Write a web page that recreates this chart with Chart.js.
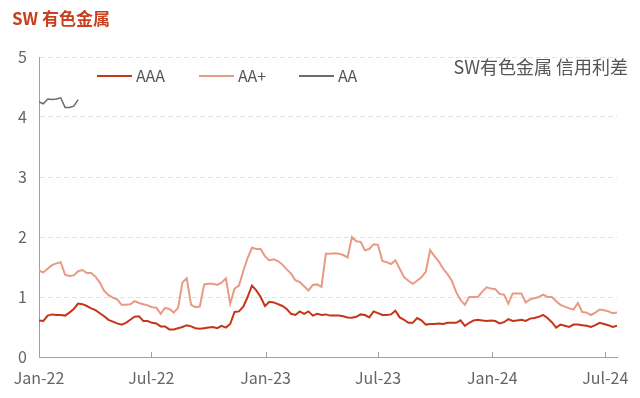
<!DOCTYPE html>
<html>
<head>
<meta charset="utf-8">
<script src="https://cdn.jsdelivr.net/npm/chart.js@4.4.0/dist/chart.umd.min.js"></script>
<style>
  html, body { margin: 0; padding: 0; background: #fff; }
  #wrap { width: 640px; height: 398px; }
</style>
</head>
<body>
<div id="wrap"><canvas id="chart" width="640" height="398"></canvas></div>
<script>
// weekly spreads (%), first week = 2022-01-01
const aaa = [
  0.61, 0.60, 0.69, 0.71, 0.70, 0.70, 0.69, 0.74, 0.80, 0.89,
  0.88, 0.85, 0.81, 0.78, 0.73, 0.68, 0.62, 0.59, 0.56, 0.54,
  0.57, 0.62, 0.67, 0.68, 0.60, 0.60, 0.57, 0.56, 0.51, 0.51,
  0.46, 0.46, 0.48, 0.50, 0.53, 0.51, 0.48, 0.47, 0.48, 0.49,
  0.50, 0.48, 0.52, 0.49, 0.55, 0.75, 0.76, 0.84, 1.00, 1.19,
  1.11, 1.00, 0.85, 0.92, 0.91, 0.88, 0.85, 0.80, 0.72, 0.70,
  0.76, 0.72, 0.76, 0.69, 0.72, 0.70, 0.71, 0.69, 0.69, 0.69,
  0.68, 0.66, 0.655, 0.67, 0.71, 0.70, 0.66, 0.76, 0.73, 0.70,
  0.70, 0.71, 0.77, 0.66, 0.62, 0.57, 0.57, 0.65, 0.61, 0.54,
  0.55, 0.55, 0.56, 0.55, 0.57, 0.57, 0.57, 0.61, 0.52, 0.57,
  0.61, 0.62, 0.61, 0.60, 0.61, 0.60, 0.56, 0.58, 0.63, 0.60,
  0.61, 0.62, 0.60, 0.64, 0.65, 0.67, 0.70, 0.65, 0.58, 0.49,
  0.54, 0.52, 0.50, 0.54, 0.54, 0.53, 0.52, 0.50, 0.53, 0.57,
  0.55, 0.53, 0.50, 0.52
];
const aaPlus = [
  1.44, 1.41, 1.47, 1.53, 1.56, 1.58, 1.37, 1.35, 1.36, 1.43,
  1.45, 1.40, 1.40, 1.34, 1.24, 1.10, 1.03, 0.99, 0.96, 0.87,
  0.87, 0.88, 0.93, 0.90, 0.88, 0.86, 0.83, 0.82, 0.72, 0.82,
  0.80, 0.74, 0.82, 1.24, 1.31, 0.87, 0.83, 0.84, 1.21, 1.22,
  1.22, 1.20, 1.24, 1.31, 0.89, 1.14, 1.19, 1.43, 1.65, 1.82,
  1.80, 1.80, 1.68, 1.61, 1.63, 1.60, 1.54, 1.46, 1.39, 1.28,
  1.25, 1.18, 1.11, 1.20, 1.21, 1.17, 1.72, 1.72, 1.73, 1.72,
  1.70, 1.66, 2.00, 1.93, 1.92, 1.78, 1.80, 1.88, 1.87, 1.60,
  1.58, 1.55, 1.61, 1.47, 1.33, 1.27, 1.22, 1.27, 1.33, 1.42,
  1.78, 1.68, 1.59, 1.47, 1.38, 1.27, 1.08, 0.95, 0.87, 1.00,
  1.00, 1.00, 1.09, 1.16, 1.14, 1.13, 1.05, 1.04, 0.89, 1.06,
  1.06, 1.06, 0.91, 0.96, 0.98, 1.00, 1.04, 1.00, 1.00, 0.93,
  0.87, 0.84, 0.81, 0.79, 0.90, 0.75, 0.74, 0.70, 0.74, 0.79,
  0.78, 0.76, 0.73, 0.74
];
const aa = [4.25, 4.22, 4.30, 4.29, 4.30, 4.32, 4.16, 4.16, 4.18, 4.29];

const seriesNames = ['AAA', 'AA+', 'AA'];
const tickDays = [0, 181, 365, 546, 730, 912];
const tickLabels = ['Jan-22', 'Jul-22', 'Jan-23', 'Jul-23', 'Jan-24', 'Jul-24'];
const weekDays = aaa.map((v, i) => i * 7);

const FONT = '"Noto Sans CJK SC", "Noto Sans", sans-serif';
Chart.defaults.font.family = FONT;

const colors = ['#c4351a', '#e99a85', '#6b6b6b'];

// title, note, legend and inward x ticks
const decor = {
  id: 'decor',
  afterDraw(chart) {
    const ctx = chart.ctx;
    const area = chart.chartArea;
    const x = chart.scales.x;
    ctx.save();

    ctx.strokeStyle = '#a0a0a0';
    ctx.lineWidth = 1;
    tickDays.slice(1).forEach(d => {
      const px = Math.round(x.getPixelForValue(d)) + 0.5;
      ctx.beginPath();
      ctx.moveTo(px, area.bottom);
      ctx.lineTo(px, area.bottom - 5);
      ctx.stroke();
    });

    ctx.textBaseline = 'middle';
    ctx.fillStyle = '#c8401f';
    ctx.font = 'bold 17px ' + FONT;
    ctx.textAlign = 'left';
    ctx.fillText('SW 有色金属', 12, 19);

    ctx.fillStyle = '#555';
    ctx.font = '18px ' + FONT;
    ctx.textAlign = 'right';
    ctx.fillText('SW有色金属 信用利差', 628, 67);

    const legendX = [97, 199, 299];
    ctx.font = '16px ' + FONT;
    ctx.textAlign = 'left';
    chart.data.datasets.forEach((ds, i) => {
      const lx = legendX[i];
      ctx.strokeStyle = ds.borderColor;
      ctx.lineWidth = 2;
      ctx.beginPath();
      ctx.moveTo(lx, 76);
      ctx.lineTo(lx + 35, 76);
      ctx.stroke();
      ctx.fillStyle = '#555';
      ctx.fillText(ds.label, lx + 39, 76);
    });
    ctx.restore();
  }
};

new Chart(document.getElementById('chart'), {
  type: 'line',
  data: {
    labels: weekDays,
    datasets: [
      { label: seriesNames[0], data: aaa, borderColor: colors[0], borderWidth: 2 },
      { label: seriesNames[1], data: aaPlus, borderColor: colors[1], borderWidth: 2 },
      { label: seriesNames[2], data: aa, borderColor: colors[2], borderWidth: 1.5 }
    ]
  },
  options: {
    responsive: false,
    animation: false,
    devicePixelRatio: 1,
    layout: { padding: { top: 57, right: 23, left: 0, bottom: 0 } },
    elements: { point: { radius: 0 }, line: { tension: 0 } },
    plugins: { legend: { display: false }, tooltip: { enabled: false } },
    scales: {
      x: {
        type: 'linear',
        min: 0,
        max: 931,
        afterBuildTicks: s => { s.ticks = tickDays.map(v => ({ value: v })); },
        afterFit: s => { s.height = 41; },
        ticks: {
          callback: v => tickLabels[tickDays.indexOf(v)],
          color: '#666',
          font: { size: 16 },
          padding: 3,
          maxRotation: 0,
          autoSkip: false
        },
        grid: { display: false },
        border: { color: '#a0a0a0', width: 1 }
      },
      y: {
        min: 0,
        max: 5,
        afterFit: s => { s.width = 39; },
        ticks: { stepSize: 1, color: '#666', font: { size: 16 }, padding: 12 },
        grid: { color: '#e3e3e3', drawTicks: false },
        border: { color: '#a0a0a0', width: 1, dash: [5, 3] }
      }
    }
  },
  plugins: [decor]
});
</script>
</body>
</html>
